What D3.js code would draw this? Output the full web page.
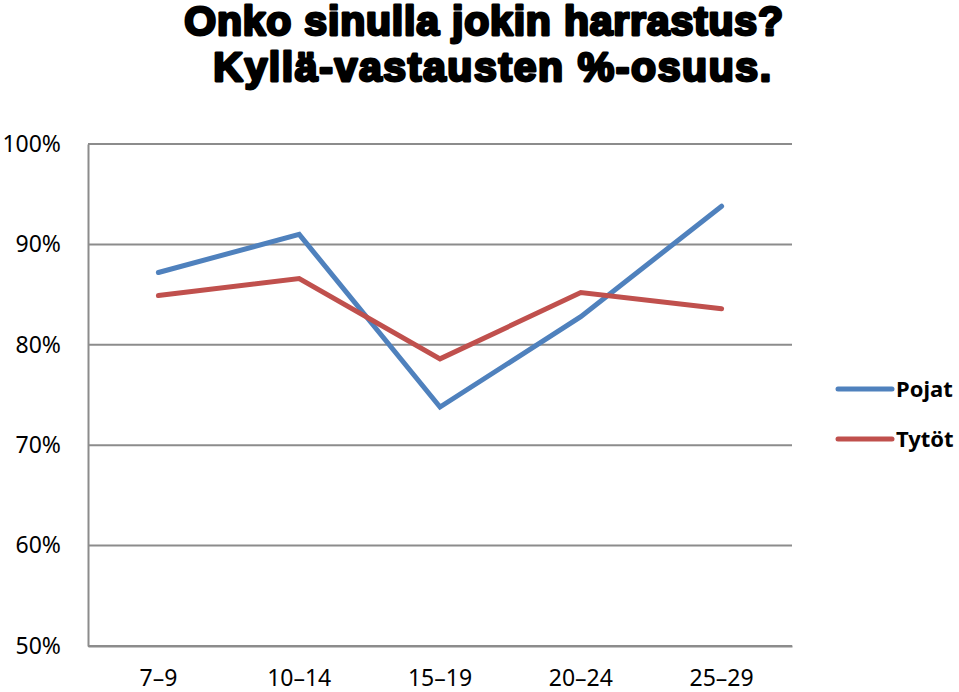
<!DOCTYPE html>
<meta charset="utf-8">
<html>
<head>
<title>Onko sinulla jokin harrastus?</title>
<style>
  body { margin: 0; background: #fff; }
  .tick text { font-family: "Noto Sans", sans-serif; }
  .title {
    font-family: "Liberation Sans", Arial, sans-serif;
    font-weight: bold;
    font-size: 41px;
    letter-spacing: 0.8px;
    stroke: #000;
    stroke-width: 2.8px;
    stroke-linejoin: round;
  }
</style>
<script src="https://cdn.jsdelivr.net/npm/d3@7"></script>
</head>
<body>
<script>

    // ikäryhmät ja kyllä-vastausten osuudet (%)
    var categories = ["7–9", "10–14", "15–19", "20–24", "25–29"];
    var pojat = [87.2, 91.0, 73.8, 82.8, 93.8];
    var tytot = [84.9, 86.6, 78.6, 85.2, 83.6];
    var yTicks = [50, 60, 70, 80, 90, 100];

    var series = [
      { name: "Pojat", values: pojat, color: "#4F81BD" },
      { name: "Tytöt", values: tytot, color: "#C0504D" }
    ];

    var width = 959, height = 692;
    var mLeft = 88, mRight = 792, mTop = 144, mBottom = 646;

    var svg = d3.select("body").append("svg")
        .attr("width", width)
        .attr("height", height);

    // title
    var title = svg.append("text")
        .attr("class", "title")
        .attr("text-anchor", "middle");
    title.append("tspan").attr("x", 484).attr("y", 35).text("Onko sinulla jokin harrastus?");
    title.append("tspan").attr("x", 493).attr("y", 81)
        .style("letter-spacing", "1.6px")
        .text("Kyllä-vastausten %-osuus.");

    var x = d3.scaleBand().domain(categories).range([mLeft, mRight]);
    var y = d3.scaleLinear().domain([50, 100]).range([mBottom, mTop]);

    // gridlines
    svg.append("g")
      .selectAll("line")
      .data(yTicks)
      .enter().append("line")
      .attr("x1", mLeft).attr("x2", mRight)
      .attr("y1", d => y(d)).attr("y2", d => y(d))
      .style("stroke", "#8c8c8c")
      .style("stroke-width", 2);

    // y axis
    var yAxis = svg.append("g")
        .attr("transform", `translate(${mLeft},0)`)
        .call(d3.axisLeft(y).tickValues(yTicks).tickSize(0).tickPadding(27)
              .tickFormat(d => d + "%"));
    yAxis.select(".domain").style("stroke", "#8c8c8c").style("stroke-width", 2);
    yAxis.selectAll("text").style("font-size", "23px").attr("fill", "#000");

    // x axis
    var xAxis = svg.append("g")
        .attr("transform", `translate(0,${mBottom})`)
        .call(d3.axisBottom(x).tickSize(0).tickPadding(24));
    xAxis.select(".domain").style("stroke", "#8c8c8c").style("stroke-width", 2);
    xAxis.selectAll("text").style("font-size", "23px").attr("fill", "#000");

    var line = d3.line()
        .x((d, i) => x(categories[i]) + x.bandwidth() / 2)
        .y(d => y(d));

    svg.selectAll("path.series")
      .data(series)
      .enter().append("path")
      .attr("class", "series")
      .attr("d", d => line(d.values))
      .style("fill", "none")
      .style("stroke", d => d.color)
      .style("stroke-width", 5)
      .style("stroke-linecap", "round")
      .style("stroke-linejoin", "miter");

    // legend
    var legend = svg.selectAll("g.legend")
      .data(series)
      .enter().append("g")
      .attr("class", "legend")
      .attr("transform", (d, i) => `translate(836,${389 + i * 50})`);
    legend.append("line")
      .attr("x1", 2).attr("x2", 56)
      .style("stroke", d => d.color)
      .style("stroke-width", 5)
      .style("stroke-linecap", "round");
    legend.append("text")
      .attr("x", 60).attr("y", 8)
      .style("font-family", "'Noto Sans', sans-serif")
      .style("font-weight", "bold")
      .style("font-size", "22px")
      .text(d => d.name);

</script>
</body>
</html>
